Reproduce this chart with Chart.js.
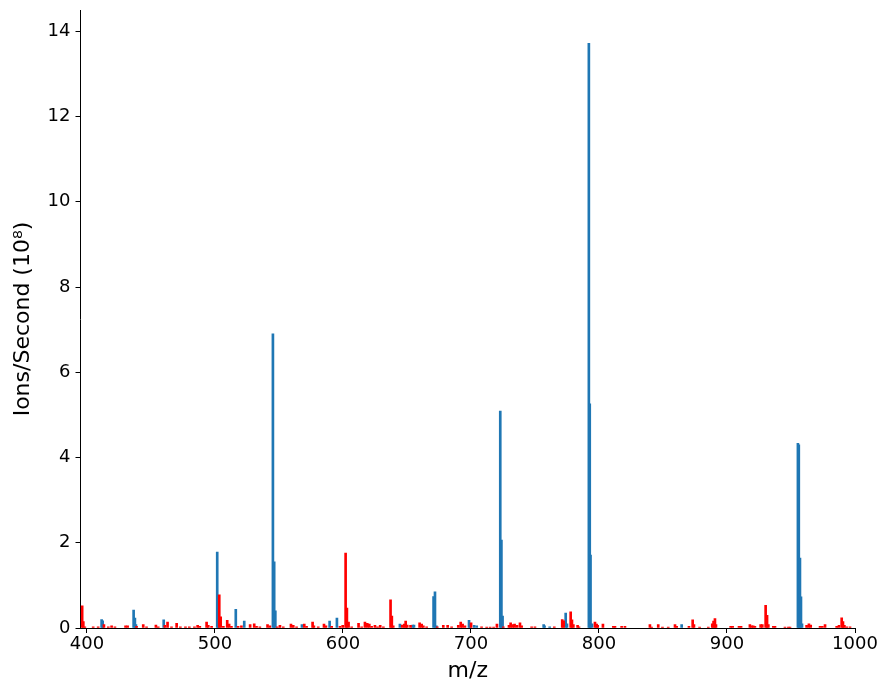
<!DOCTYPE html>
<html>
<head>
<meta charset="utf-8">
<script src="https://cdn.jsdelivr.net/npm/chart.js@4"></script>
<style>
  html, body { margin: 0; padding: 0; background: #fff; }
  #wrap { width: 889px; height: 694px; }
</style>
</head>
<body>
<div id="wrap"><canvas id="spectrum"></canvas></div>
<script>
// blue series (m/z, intensity in 1e8 ions/s)
const blueMz = [411.5, 412.3, 436.5, 437.5, 438.3, 460.0, 501.8, 502.6, 516.3, 522.9, 545.3, 546.3, 547.2,
  568.0, 589.6, 595.3, 644.5, 654.5, 655.5, 670.8, 671.9, 673.0, 698.5, 699.3, 702.5, 704.5,
  722.9, 723.8, 724.7, 756.8, 757.5, 761.5, 774.0, 775.0, 792.1, 792.8, 793.4, 794.6, 864.6,
  955.4, 956.1, 957.0, 957.8, 958.6];
const blueVal = [0.20, 0.17, 0.42, 0.23, 0.08, 0.19, 1.78, 0.45, 0.44, 0.16, 6.90, 1.55, 0.40,
  0.08, 0.16, 0.23, 0.09, 0.07, 0.07, 0.74, 0.85, 0.05, 0.18, 0.10, 0.06, 0.05,
  5.09, 2.06, 0.28, 0.08, 0.05, 0.03, 0.35, 0.10, 13.72, 5.26, 1.71, 0.10, 0.08,
  4.33, 4.30, 1.64, 0.73, 0.10];

// red series
const redMz = [396.3, 397.2, 398.4, 404.9, 408.8, 413.3, 416.7, 419.3, 421.9, 430.2, 431.8, 438.8, 444.0,
  446.6, 453.9, 455.7, 460.9, 463.0, 466.1, 470.1, 473.0, 477.0, 480.0, 484.0, 486.5, 488.2,
  493.5, 494.8, 497.4, 503.4, 504.5, 506.6, 509.6, 511.1, 512.9, 518.1, 520.7, 527.5, 530.7,
  532.5, 535.1, 541.1, 542.9, 548.7, 550.8, 553.4, 559.4, 561.2, 563.8, 569.8, 571.6, 576.3,
  577.3, 580.7, 585.2, 586.7, 591.2, 597.7, 599.8, 602.1, 603.1, 604.4, 606.8, 612.2, 614.6,
  617.2, 619.0, 620.6, 622.4, 625.0, 627.0, 629.1, 631.6, 637.2, 638.2, 639.3, 646.3, 647.9,
  649.0, 650.2, 652.8, 659.9, 661.5, 662.8, 665.4, 673.7, 678.4, 681.8, 684.9, 690.1, 692.0,
  693.5, 695.3, 700.1, 708.3, 712.3, 715.0, 717.7, 720.3, 725.3, 729.7, 731.0, 732.6, 734.1,
  736.0, 738.3, 739.6, 747.4, 750.0, 765.1, 771.3, 772.4, 777.9, 778.9, 780.0, 783.3, 784.4,
  796.9, 798.2, 799.0, 803.1, 811.2, 812.5, 817.7, 820.3, 839.8, 841.1, 846.3, 849.6, 854.1,
  859.4, 860.7, 870.3, 873.2, 874.2, 878.6, 885.4, 888.5, 889.5, 890.6, 891.4, 902.9, 904.4,
  909.4, 911.0, 917.9, 919.2, 920.5, 921.8, 926.3, 927.6, 930.2, 931.3, 932.3, 936.2, 937.5,
  945.3, 947.9, 949.2, 962.2, 964.0, 965.4, 972.7, 974.5, 976.6, 985.7, 987.5, 989.6, 990.6,
  991.7, 993.5, 996.1];
const redVal = [0.52, 0.15, 0.03, 0.03, 0.03, 0.08, 0.03, 0.05, 0.03, 0.05, 0.05, 0.04, 0.08,
  0.03, 0.07, 0.03, 0.06, 0.14, 0.03, 0.11, 0.03, 0.03, 0.03, 0.03, 0.06, 0.04,
  0.14, 0.06, 0.04, 0.78, 0.26, 0.04, 0.18, 0.09, 0.04, 0.04, 0.05, 0.08, 0.10,
  0.04, 0.03, 0.08, 0.05, 0.03, 0.06, 0.03, 0.09, 0.06, 0.03, 0.09, 0.04, 0.14,
  0.05, 0.03, 0.09, 0.05, 0.04, 0.04, 0.06, 1.76, 0.47, 0.14, 0.03, 0.11, 0.03,
  0.14, 0.11, 0.09, 0.04, 0.06, 0.03, 0.06, 0.03, 0.66, 0.28, 0.05, 0.07, 0.09,
  0.16, 0.07, 0.06, 0.12, 0.09, 0.05, 0.03, 0.03, 0.06, 0.06, 0.03, 0.06, 0.14,
  0.09, 0.05, 0.12, 0.03, 0.02, 0.02, 0.02, 0.09, 0.03, 0.06, 0.12, 0.08, 0.09,
  0.06, 0.12, 0.05, 0.03, 0.03, 0.03, 0.20, 0.17, 0.38, 0.19, 0.08, 0.06, 0.03,
  0.14, 0.09, 0.06, 0.09, 0.04, 0.04, 0.04, 0.04, 0.08, 0.02, 0.08, 0.02, 0.02,
  0.08, 0.04, 0.04, 0.19, 0.08, 0.02, 0.02, 0.10, 0.16, 0.22, 0.08, 0.04, 0.04,
  0.04, 0.04, 0.08, 0.05, 0.05, 0.04, 0.08, 0.08, 0.53, 0.30, 0.08, 0.04, 0.04,
  0.02, 0.02, 0.02, 0.06, 0.10, 0.07, 0.04, 0.04, 0.08, 0.04, 0.06, 0.24, 0.15,
  0.06, 0.03, 0.03];

const xTicks = [400, 500, 600, 700, 800, 900, 1000];
const yTicks = [0, 2, 4, 6, 8, 10, 12, 14];

const toPoints = (xs, ys) => xs.map((x, i) => ({ x: x, y: ys[i] }));

const ctx = document.getElementById('spectrum').getContext('2d');

new Chart(ctx, {
  type: 'bar',
  data: {
    datasets: [{
      label: 'red',
      data: toPoints(redMz, redVal),
      backgroundColor: '#ff0000',
      borderWidth: 0,
      barThickness: 2,
      grouped: false
    }, {
      label: 'blue',
      data: toPoints(blueMz, blueVal),
      backgroundColor: '#1f77b4',
      borderWidth: 0,
      barThickness: 2,
      grouped: false
    }]
  },
  options: {
    responsive: true,
    maintainAspectRatio: false,
    animation: false,
    layout: { padding: { left: 0, top: 10, right: 34, bottom: 0 } },
    plugins: {
      legend: { display: false },
      tooltip: { enabled: false }
    },
    scales: {
      x: {
        type: 'linear',
        offset: false,
        min: 395,
        max: 1000,
        afterBuildTicks: (s) => { s.ticks = xTicks.map(v => ({ value: v })); },
        afterFit: (s) => { s.height = 66; },
        ticks: {
          color: '#000',
          padding: 1,
          maxRotation: 0,
          autoSkip: false,
          callback: (v) => String(v),
          font: { family: 'DejaVu Sans', size: 18 }
        },
        grid: {
          display: true,
          offset: false,
          drawOnChartArea: false,
          drawTicks: true,
          tickLength: 5,
          tickColor: '#000',
          tickWidth: 1
        },
        border: { display: true, color: '#000', width: 1 },
        title: {
          display: true,
          text: 'm/z',
          color: '#000',
          font: { family: 'DejaVu Sans', size: 22 },
          padding: { top: 0, bottom: 10 }
        }
      },
      y: {
        min: 0,
        max: 14.5,
        afterBuildTicks: (s) => { s.ticks = yTicks.map(v => ({ value: v })); },
        afterFit: (s) => { s.width = 80.5; s.paddingTop = 0; s.paddingBottom = 0; },
        ticks: {
          color: '#000',
          padding: 5,
          callback: (v) => String(v),
          font: { family: 'DejaVu Sans', size: 18 }
        },
        grid: {
          display: true,
          drawOnChartArea: false,
          drawTicks: true,
          tickLength: 5,
          tickColor: '#000',
          tickWidth: 1
        },
        border: { display: true, color: '#000', width: 1 },
        title: {
          display: true,
          text: 'Ions/Second (10⁸)',
          color: '#000',
          font: { family: 'DejaVu Sans', size: 22 },
          padding: { top: 10, bottom: 0 }
        }
      }
    }
  }
});
</script>
</body>
</html>
